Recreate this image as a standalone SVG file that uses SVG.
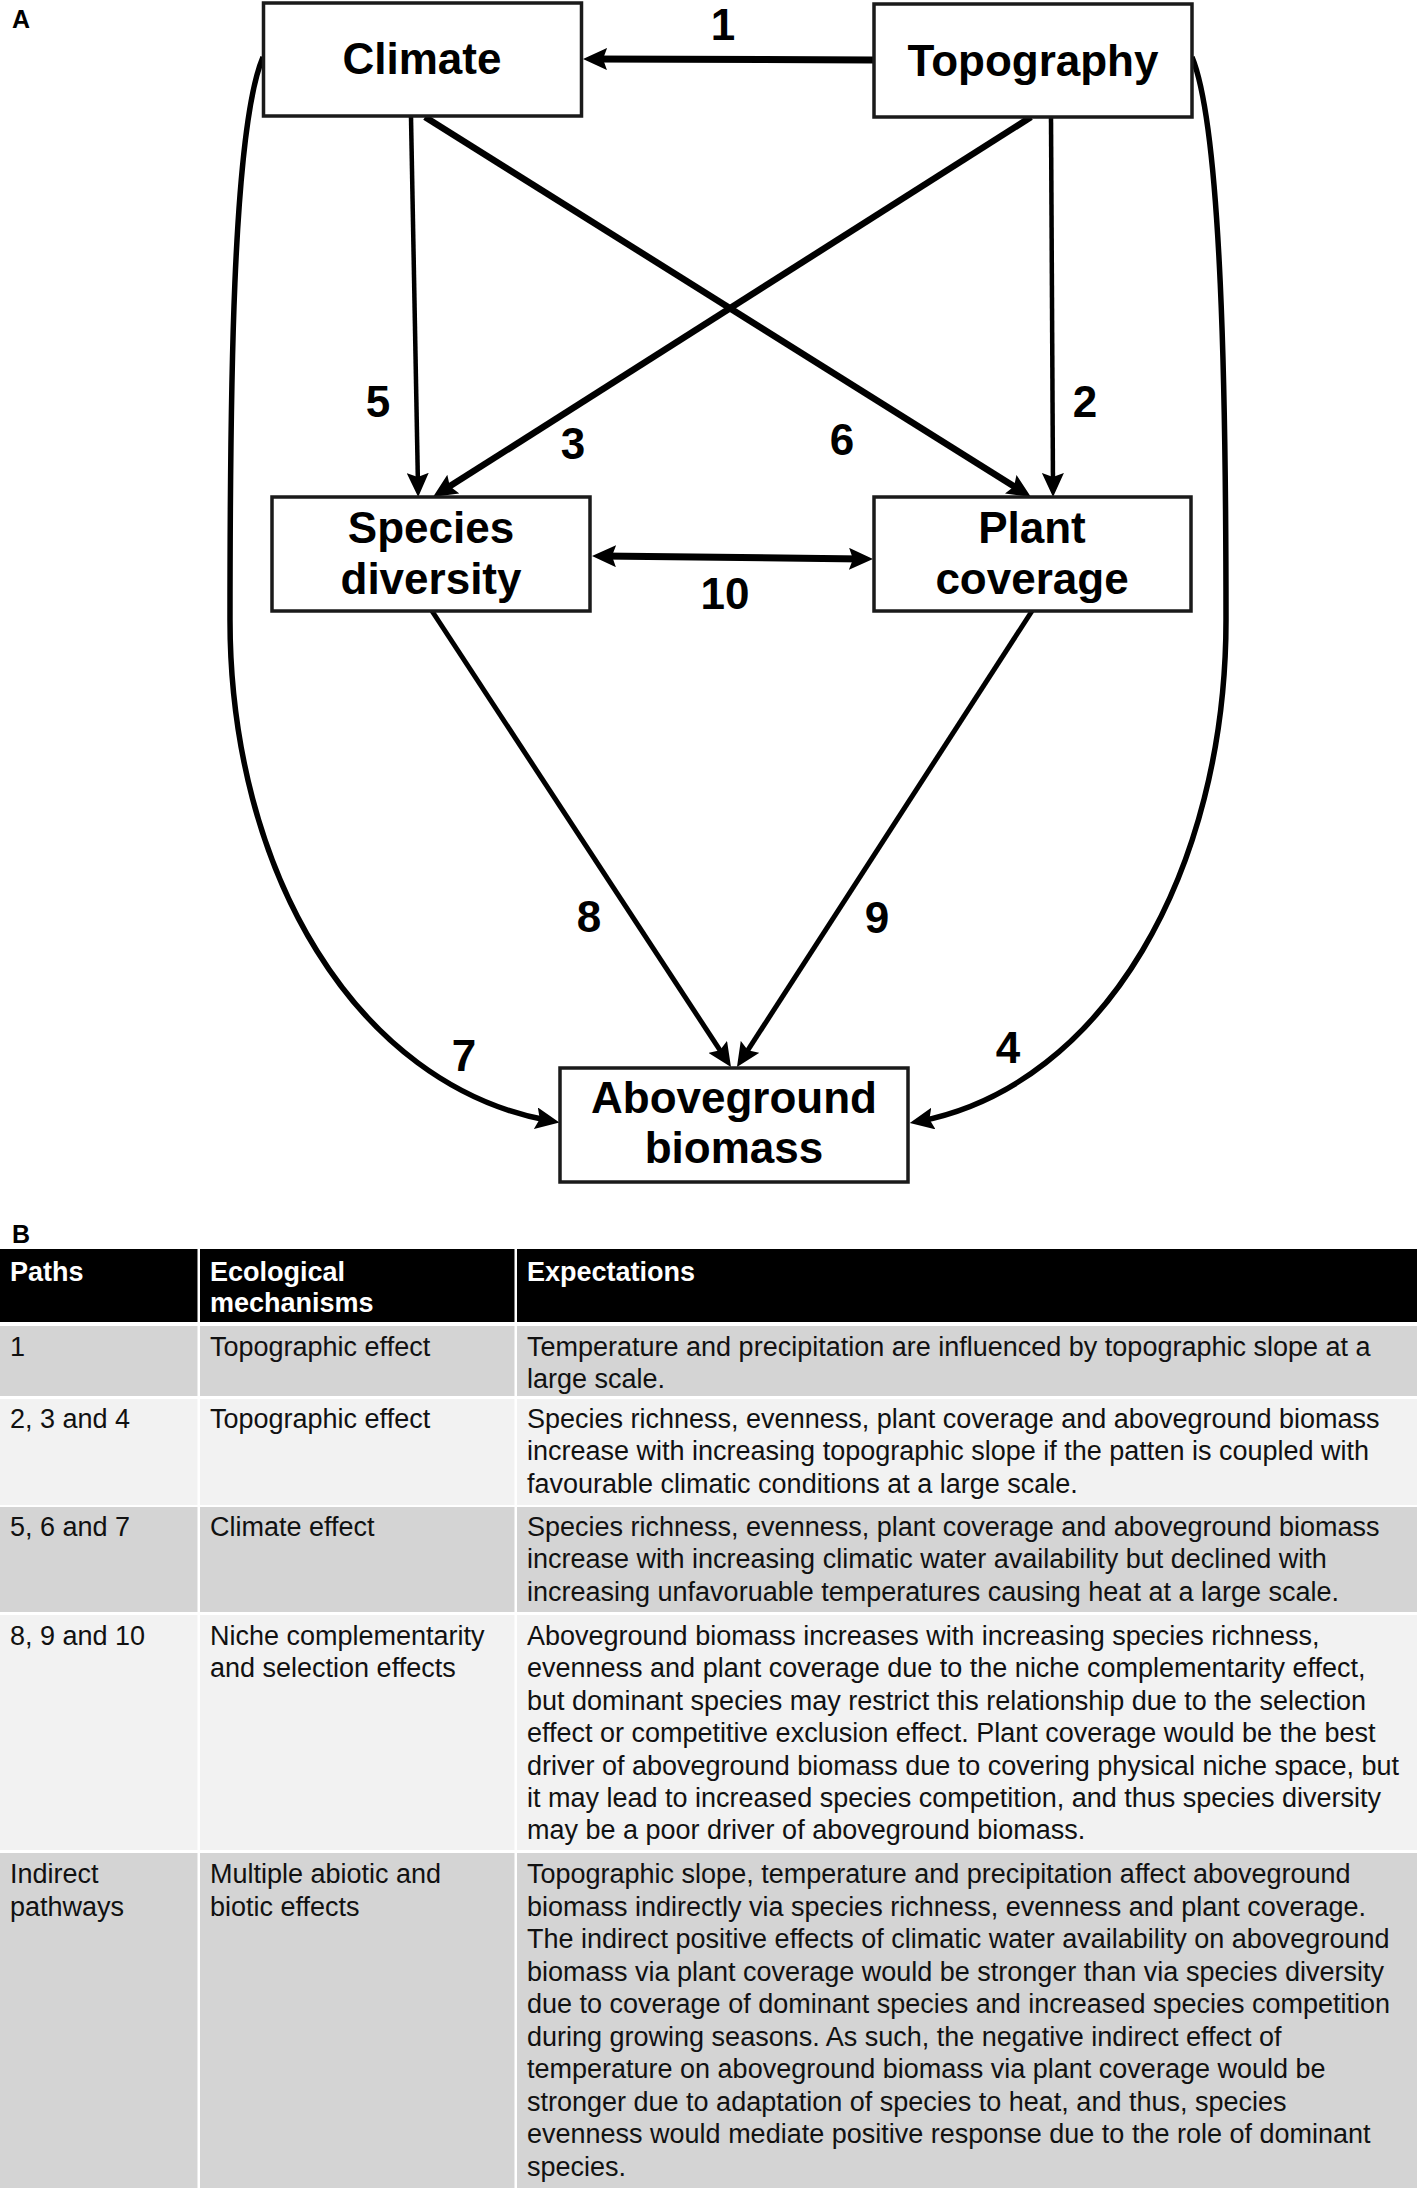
<svg xmlns="http://www.w3.org/2000/svg" width="1417" height="2189" viewBox="0 0 1417 2189">
<style>
.box{fill:#fff;stroke:#1a1a1a;stroke-width:3.5}
.nt{font-family:"Liberation Sans",Arial,sans-serif;font-weight:bold;font-size:44px;fill:#000;text-anchor:middle}
.num{font-family:"Liberation Sans",Arial,sans-serif;font-weight:bold;font-size:44px;fill:#000;text-anchor:middle}
.pl{font-family:"Liberation Sans",Arial,sans-serif;font-weight:bold;font-size:25px;fill:#000}
.c{fill:none;stroke:#000;stroke-linecap:butt}
.th{font-family:"Liberation Sans",Arial,sans-serif;font-weight:bold;font-size:27px;fill:#fff}
.td{font-family:"Liberation Sans",Arial,sans-serif;font-size:27px;fill:#111}
.g{fill:#d4d4d4}
.l{fill:#f2f2f2}
</style>
<defs>
<marker id="ah" viewBox="0 0 24 22" refX="14" refY="11" markerWidth="24" markerHeight="22" markerUnits="userSpaceOnUse" orient="auto-start-reverse">
<path d="M0,0 L24,11 L0,22 L4,11 Z" fill="#000"/>
</marker>
</defs>
<rect width="1417" height="2189" fill="#fff"/>
<text class="pl" x="12" y="28">A</text>
<g id="connectors">
<path class="c" d="M873 60 L593 59" stroke-width="7" marker-end="url(#ah)"/>
<path class="c" d="M411 117 L418 487" stroke-width="4.5" marker-end="url(#ah)"/>
<path class="c" d="M425 117 L1022.5 491.7" stroke-width="6.5" marker-end="url(#ah)"/>
<path class="c" d="M1031 117 L441.4 491.6" stroke-width="6.5" marker-end="url(#ah)"/>
<path class="c" d="M1051 117 L1053 487" stroke-width="4.5" marker-end="url(#ah)"/>
<path class="c" d="M602 556 L863 559" stroke-width="7" marker-start="url(#ah)" marker-end="url(#ah)"/>
<path class="c" d="M432 611 L725.5 1058.6" stroke-width="5" marker-end="url(#ah)"/>
<path class="c" d="M1032 611 L742.4 1058.6" stroke-width="5" marker-end="url(#ah)"/>
<path class="c" d="M263 57 C232 130, 230 400, 230 620 C230 870, 355 1085, 549.6 1120.8" stroke-width="5.5" marker-end="url(#ah)"/>
<path class="c" d="M1192 57 C1222 130, 1226 400, 1226 620 C1226 870, 1105 1085, 919.6 1121.2" stroke-width="5.5" marker-end="url(#ah)"/>
<text class="num" x="723" y="40">1</text>
<text class="num" x="378" y="417">5</text>
<text class="num" x="1085" y="417">2</text>
<text class="num" x="573" y="459">3</text>
<text class="num" x="842" y="455">6</text>
<text class="num" x="725" y="609">10</text>
<text class="num" x="589" y="932">8</text>
<text class="num" x="877" y="933">9</text>
<text class="num" x="464" y="1071">7</text>
<text class="num" x="1008" y="1063">4</text>
</g>
<g id="climate">
<rect class="box" x="263.5" y="3" width="318" height="113"/>
<text class="nt" x="422" y="74">Climate</text>
</g>
<g id="topography">
<rect class="box" x="874" y="4" width="318" height="113"/>
<text class="nt" x="1033" y="76">Topography</text>
</g>
<g id="species-diversity">
<rect class="box" x="272" y="497" width="318" height="114"/>
<text class="nt" x="431" y="543">Species</text>
<text class="nt" x="431" y="594">diversity</text>
</g>
<g id="plant-coverage">
<rect class="box" x="874" y="497" width="317" height="114"/>
<text class="nt" x="1032" y="543">Plant</text>
<text class="nt" x="1032" y="594">coverage</text>
</g>
<g id="aboveground-biomass">
<rect class="box" x="560" y="1068" width="348" height="114"/>
<text class="nt" x="734" y="1113">Aboveground</text>
<text class="nt" x="734" y="1163">biomass</text>
</g>
<text class="pl" x="12" y="1243">B</text>
<g id="table">
<rect x="0" y="1249" width="1417" height="73" fill="#000"/>
<rect class="g" x="0" y="1326" width="1417" height="70"/>
<rect class="l" x="0" y="1399" width="1417" height="106"/>
<rect class="g" x="0" y="1507" width="1417" height="105"/>
<rect class="l" x="0" y="1615" width="1417" height="235"/>
<rect class="g" x="0" y="1853" width="1417" height="335"/>
<rect x="197.5" y="1249" width="2.5" height="940" fill="#fff"/>
<rect x="514.5" y="1249" width="2.5" height="940" fill="#fff"/>
<text class="th" x="10" y="1281">Paths</text>
<text class="th" x="210" y="1281">Ecological</text>
<text class="th" x="210" y="1312">mechanisms</text>
<text class="th" x="527" y="1281">Expectations</text>

<text class="td" x="10" y="1356">1</text>
<text class="td" x="210" y="1356">Topographic effect</text>
<text class="td" x="527" y="1356">Temperature and precipitation are influenced by topographic slope at a</text>
<text class="td" x="527" y="1388">large scale.</text>

<text class="td" x="10" y="1428">2, 3 and 4</text>
<text class="td" x="210" y="1428">Topographic effect</text>
<text class="td" x="527" y="1428">Species richness, evenness, plant coverage and aboveground biomass</text>
<text class="td" x="527" y="1460.4">increase with increasing topographic slope if the patten is coupled with</text>
<text class="td" x="527" y="1492.8">favourable climatic conditions at a large scale.</text>

<text class="td" x="10" y="1536">5, 6 and 7</text>
<text class="td" x="210" y="1536">Climate effect</text>
<text class="td" x="527" y="1536">Species richness, evenness, plant coverage and aboveground biomass</text>
<text class="td" x="527" y="1568.4">increase with increasing climatic water availability but declined with</text>
<text class="td" x="527" y="1600.8">increasing unfavoruable temperatures causing heat at a large scale.</text>

<text class="td" x="10" y="1645">8, 9 and 10</text>
<text class="td" x="210" y="1645">Niche complementarity</text>
<text class="td" x="210" y="1677.4">and selection effects</text>
<text class="td" x="527" y="1645">Aboveground biomass increases with increasing species richness,</text>
<text class="td" x="527" y="1677.4">evenness and plant coverage due to the niche complementarity effect,</text>
<text class="td" x="527" y="1709.8">but dominant species may restrict this relationship due to the selection</text>
<text class="td" x="527" y="1742.2">effect or competitive exclusion effect. Plant coverage would be the best</text>
<text class="td" x="527" y="1774.6">driver of aboveground biomass due to covering physical niche space, but</text>
<text class="td" x="527" y="1807">it may lead to increased species competition, and thus species diversity</text>
<text class="td" x="527" y="1839.4">may be a poor driver of aboveground biomass.</text>

<text class="td" x="10" y="1883">Indirect</text>
<text class="td" x="10" y="1915.5">pathways</text>
<text class="td" x="210" y="1883">Multiple abiotic and</text>
<text class="td" x="210" y="1915.5">biotic effects</text>
<text class="td" x="527" y="1883">Topographic slope, temperature and precipitation affect aboveground</text>
<text class="td" x="527" y="1915.5">biomass indirectly via species richness, evenness and plant coverage.</text>
<text class="td" x="527" y="1948">The indirect positive effects of climatic water availability on aboveground</text>
<text class="td" x="527" y="1980.5">biomass via plant coverage would be stronger than via species diversity</text>
<text class="td" x="527" y="2013">due to coverage of dominant species and increased species competition</text>
<text class="td" x="527" y="2045.5">during growing seasons. As such, the negative indirect effect of</text>
<text class="td" x="527" y="2078">temperature on aboveground biomass via plant coverage would be</text>
<text class="td" x="527" y="2110.5">stronger due to adaptation of species to heat, and thus, species</text>
<text class="td" x="527" y="2143">evenness would mediate positive response due to the role of dominant</text>
<text class="td" x="527" y="2175.5">species.</text>
</g>
</svg>
